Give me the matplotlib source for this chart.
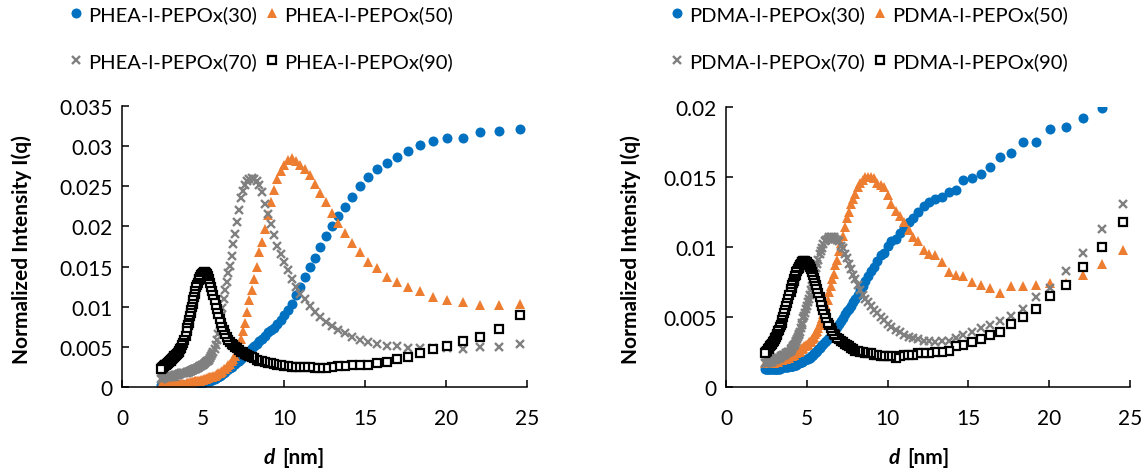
import numpy as np
import matplotlib
matplotlib.use("Agg")
import matplotlib.pyplot as plt
from matplotlib.ticker import FuncFormatter

plt.rcParams['font.family'] = ['Lato', 'DejaVu Sans']

# d-spacing of each scattering point (nm), shared by all samples
d_nm = [
    24.54, 23.25, 22.08, 21.02, 20.06, 19.19, 18.38, 17.64, 16.96, 16.33,
    15.75, 15.20, 14.69, 14.22, 13.77, 13.35, 12.96, 12.59, 12.24, 11.91,
    11.59, 11.30, 11.01, 10.74, 10.49, 10.24, 10.01, 9.785, 9.572, 9.368,
    9.172, 8.985, 8.805, 8.632, 8.466, 8.306, 8.151, 8.003, 7.860, 7.722,
    7.588, 7.460, 7.335, 7.215, 7.098, 6.985, 6.876, 6.770, 6.667, 6.568,
    6.471, 6.377, 6.286, 6.197, 6.111, 6.027, 5.945, 5.866, 5.789, 5.714,
    5.640, 5.569, 5.499, 5.431, 5.365, 5.300, 5.237, 5.175, 5.115, 5.056,
    4.999, 4.942, 4.887, 4.834, 4.781, 4.730, 4.679, 4.630, 4.582, 4.534,
    4.488, 4.443, 4.398, 4.355, 4.312, 4.270, 4.229, 4.189, 4.149, 4.110,
    4.072, 4.035, 3.998, 3.926, 3.857, 3.791, 3.727, 3.665, 3.604, 3.546,
    3.490, 3.435, 3.382, 3.331, 3.281, 3.233, 3.186, 3.141, 3.096, 3.053,
    3.012, 2.951, 2.893, 2.837, 2.783, 2.731, 2.681, 2.633, 2.586,
    2.541, 2.498, 2.456, 2.416,
]

# PHEA-l-PEPOx series
phea_30 = [
    0.0321, 0.0319, 0.0318, 0.0310, 0.0310, 0.0306, 0.0302, 0.0294, 0.0286, 0.0279,
    0.0271, 0.0262, 0.0250, 0.0237, 0.0224, 0.0213, 0.0200, 0.0188, 0.0174, 0.0161,
    0.0149, 0.0137, 0.0125, 0.0114, 0.0104, 0.0096, 0.0090, 0.0084, 0.0079, 0.0074,
    0.0071, 0.0068, 0.0064, 0.0060, 0.0057, 0.0054, 0.0051, 0.0048, 0.0045, 0.0042,
    0.0040, 0.0037, 0.0035, 0.0033, 0.0031, 0.0029, 0.0027, 0.0025, 0.0024, 0.0022,
    0.0021, 0.0019, 0.0018, 0.0016, 0.0015, 0.0014, 0.0013, 0.0012, 0.0011, 0.0010,
    0.0010, 0.0009, 0.0009, 0.0008, 0.0008, 0.0007, 0.0007, 0.0007, 0.0006, 0.0006,
    0.0006, 0.0005, 0.0005, 0.0005, 0.0005, 0.0005, 0.0004, 0.0004, 0.0004, 0.0004,
    0.0004, 0.0004, 0.0004, 0.0003, 0.0003, 0.0003, 0.0003, 0.0003, 0.0003, 0.0003,
    0.0003, 0.0003, 0.0003, 0.0003, 0.0003, 0.0003, 0.0003, 0.0003, 0.0003, 0.0003,
    0.0003, 0.0003, 0.0002, 0.0002, 0.0002, 0.0002, 0.0002, 0.0002, 0.0002, 0.0002,
    0.0002, 0.0002, 0.0002, 0.0002, 0.0002, 0.0002, 0.0002, 0.0002, 0.0002,
    0.0002, 0.0002, 0.0002, 0.0002,
]
phea_50 = [
    0.0104, 0.0102, 0.0102, 0.0106, 0.0108, 0.0112, 0.0119, 0.0124, 0.0131, 0.0137,
    0.0148, 0.0156, 0.0168, 0.0179, 0.0192, 0.0204, 0.0217, 0.0230, 0.0242, 0.0253,
    0.0264, 0.0272, 0.0277, 0.0281, 0.0285, 0.0283, 0.0277, 0.0269, 0.0259, 0.0245,
    0.0230, 0.0214, 0.0197, 0.0181, 0.0168, 0.0150, 0.0135, 0.0121, 0.0108, 0.0094,
    0.0080, 0.0070, 0.0060, 0.0051, 0.0044, 0.0039, 0.0035, 0.0032, 0.0029, 0.0027,
    0.0025, 0.0023, 0.0022, 0.0020, 0.0019, 0.0018, 0.0017, 0.0016, 0.0015, 0.0014,
    0.0014, 0.0013, 0.0013, 0.0012, 0.0012, 0.0011, 0.0011, 0.0010, 0.0010, 0.0010,
    0.0009, 0.0009, 0.0009, 0.0008, 0.0008, 0.0008, 0.0008, 0.0007, 0.0007, 0.0007,
    0.0007, 0.0006, 0.0006, 0.0006, 0.0006, 0.0006, 0.0005, 0.0005, 0.0005, 0.0005,
    0.0005, 0.0005, 0.0005, 0.0004, 0.0004, 0.0004, 0.0004, 0.0004, 0.0004, 0.0003,
    0.0003, 0.0003, 0.0003, 0.0003, 0.0003, 0.0003, 0.0003, 0.0003, 0.0003, 0.0003,
    0.0003, 0.0003, 0.0003, 0.0002, 0.0002, 0.0002, 0.0002, 0.0002, 0.0002,
    0.0002, 0.0002, 0.0002, 0.0002,
]
phea_70 = [
    0.0054, 0.0050, 0.0050, 0.0047, 0.0048, 0.0048, 0.0049, 0.0049, 0.0051, 0.0051,
    0.0054, 0.0056, 0.0058, 0.0062, 0.0067, 0.0071, 0.0076, 0.0081, 0.0087, 0.0094,
    0.0101, 0.0109, 0.0116, 0.0124, 0.0134, 0.0146, 0.0156, 0.0166, 0.0176, 0.0189,
    0.0203, 0.0216, 0.0228, 0.0243, 0.0251, 0.0256, 0.0259, 0.0260, 0.0259, 0.0256,
    0.0251, 0.0244, 0.0236, 0.0221, 0.0205, 0.0190, 0.0178, 0.0163, 0.0151, 0.0142,
    0.0131, 0.0121, 0.0109, 0.0098, 0.0088, 0.0077, 0.0066, 0.0058, 0.0052, 0.0047,
    0.0044, 0.0041, 0.0038, 0.0036, 0.0034, 0.0033, 0.0032, 0.0031, 0.0030, 0.0029,
    0.0028, 0.0027, 0.0026, 0.0026, 0.0025, 0.0025, 0.0024, 0.0024, 0.0023, 0.0023,
    0.0022, 0.0022, 0.0021, 0.0021, 0.0021, 0.0020, 0.0020, 0.0020, 0.0019, 0.0019,
    0.0019, 0.0019, 0.0018, 0.0018, 0.0018, 0.0017, 0.0017, 0.0017, 0.0016, 0.0016,
    0.0016, 0.0015, 0.0015, 0.0015, 0.0015, 0.0014, 0.0014, 0.0014, 0.0014, 0.0014,
    0.0013, 0.0013, 0.0013, 0.0013, 0.0012, 0.0012, 0.0012, 0.0012, 0.0011,
    0.0011, 0.0011, 0.0010, 0.0010,
]
phea_90 = [
    0.0090, 0.0072, 0.0062, 0.0057, 0.0051, 0.0047, 0.0042, 0.0037, 0.0035, 0.0031,
    0.0030, 0.0028, 0.0027, 0.0027, 0.0026, 0.0026, 0.0025, 0.0024, 0.0024, 0.0024,
    0.0025, 0.0025, 0.0025, 0.0025, 0.0025, 0.0026, 0.0026, 0.0027, 0.0028, 0.0029,
    0.0030, 0.0030, 0.0031, 0.0032, 0.0033, 0.0034, 0.0036, 0.0037, 0.0039, 0.0040,
    0.0041, 0.0043, 0.0044, 0.0046, 0.0048, 0.0050, 0.0052, 0.0054, 0.0056, 0.0059,
    0.0062, 0.0066, 0.0071, 0.0075, 0.0080, 0.0085, 0.0091, 0.0097, 0.0102, 0.0108,
    0.0114, 0.0119, 0.0125, 0.0130, 0.0135, 0.0138, 0.0141, 0.0142, 0.0143, 0.0143,
    0.0142, 0.0141, 0.0139, 0.0137, 0.0135, 0.0133, 0.0130, 0.0127, 0.0124, 0.0120,
    0.0116, 0.0112, 0.0108, 0.0104, 0.0100, 0.0096, 0.0092, 0.0088, 0.0084, 0.0080,
    0.0077, 0.0073, 0.0070, 0.0064, 0.0059, 0.0055, 0.0052, 0.0049, 0.0047, 0.0045,
    0.0043, 0.0042, 0.0041, 0.0040, 0.0039, 0.0038, 0.0037, 0.0036, 0.0035, 0.0034,
    0.0033, 0.0032, 0.0031, 0.0030, 0.0029, 0.0028, 0.0027, 0.0027, 0.0026,
    0.0025, 0.0024, 0.0024, 0.0023,
]

# PDMA-l-PEPOx series (first PDMA(30) point lies above the axis range)
pdma_30 = [
    np.nan, 0.0199, 0.0192, 0.0186, 0.0184, 0.0175, 0.0175, 0.0167, 0.0164, 0.0157,
    0.0152, 0.0149, 0.0148, 0.0141, 0.0139, 0.0136, 0.0134, 0.0132, 0.0129, 0.0125,
    0.0121, 0.0118, 0.0114, 0.0110, 0.0106, 0.0104, 0.0101, 0.0096, 0.0094, 0.0090,
    0.0086, 0.0083, 0.0079, 0.0076, 0.0072, 0.0069, 0.0066, 0.0063, 0.0061, 0.0058,
    0.0056, 0.0054, 0.0052, 0.0049, 0.0047, 0.0045, 0.0043, 0.0041, 0.0039, 0.0038,
    0.0036, 0.0035, 0.0034, 0.0033, 0.0032, 0.0031, 0.0030, 0.0029, 0.0028, 0.0027,
    0.0026, 0.0025, 0.0024, 0.0024, 0.0023, 0.0022, 0.0022, 0.0021, 0.0021, 0.0020,
    0.0020, 0.0020, 0.0019, 0.0019, 0.0019, 0.0018, 0.0018, 0.0018, 0.0018, 0.0017,
    0.0017, 0.0017, 0.0017, 0.0016, 0.0016, 0.0016, 0.0016, 0.0016, 0.0015, 0.0015,
    0.0015, 0.0015, 0.0015, 0.0015, 0.0014, 0.0014, 0.0014, 0.0014, 0.0014, 0.0014,
    0.0014, 0.0014, 0.0014, 0.0013, 0.0013, 0.0013, 0.0013, 0.0013, 0.0013, 0.0013,
    0.0013, 0.0013, 0.0013, 0.0013, 0.0013, 0.0013, 0.0013, 0.0013, 0.0013,
    0.0013, 0.0013, 0.0013, 0.0013,
]
pdma_50 = [
    0.0098, 0.0088, 0.0080, 0.0074, 0.0074, 0.0073, 0.0072, 0.0072, 0.0067, 0.0071,
    0.0073, 0.0075, 0.0079, 0.0080, 0.0082, 0.0089, 0.0094, 0.0095, 0.0098, 0.0104,
    0.0107, 0.0112, 0.0118, 0.0122, 0.0126, 0.0131, 0.0137, 0.0143, 0.0144, 0.0146,
    0.0149, 0.0150, 0.0150, 0.0150, 0.0148, 0.0146, 0.0143, 0.0138, 0.0134, 0.0131,
    0.0125, 0.0121, 0.0114, 0.0108, 0.0103, 0.0097, 0.0091, 0.0087, 0.0081, 0.0077,
    0.0072, 0.0068, 0.0062, 0.0058, 0.0055, 0.0052, 0.0049, 0.0047, 0.0044, 0.0042,
    0.0040, 0.0039, 0.0038, 0.0036, 0.0035, 0.0034, 0.0033, 0.0032, 0.0032, 0.0031,
    0.0030, 0.0030, 0.0029, 0.0029, 0.0028, 0.0028, 0.0027, 0.0027, 0.0026, 0.0026,
    0.0025, 0.0025, 0.0025, 0.0024, 0.0024, 0.0024, 0.0023, 0.0023, 0.0023, 0.0022,
    0.0022, 0.0022, 0.0022, 0.0021, 0.0021, 0.0021, 0.0020, 0.0020, 0.0020, 0.0020,
    0.0019, 0.0019, 0.0019, 0.0019, 0.0019, 0.0018, 0.0018, 0.0018, 0.0018, 0.0018,
    0.0018, 0.0017, 0.0017, 0.0017, 0.0017, 0.0017, 0.0017, 0.0017, 0.0017,
    0.0017, 0.0017, 0.0017, 0.0017,
]
pdma_70 = [
    0.0131, 0.0113, 0.0096, 0.0083, 0.0071, 0.0064, 0.0056, 0.0051, 0.0047, 0.0044,
    0.0042, 0.0039, 0.0037, 0.0035, 0.0033, 0.0033, 0.0032, 0.0033, 0.0033, 0.0034,
    0.0035, 0.0036, 0.0037, 0.0039, 0.0041, 0.0043, 0.0045, 0.0048, 0.0050, 0.0053,
    0.0055, 0.0058, 0.0061, 0.0063, 0.0066, 0.0069, 0.0073, 0.0077, 0.0080, 0.0084,
    0.0088, 0.0092, 0.0095, 0.0099, 0.0101, 0.0104, 0.0105, 0.0106, 0.0107, 0.0107,
    0.0107, 0.0107, 0.0106, 0.0105, 0.0104, 0.0102, 0.0099, 0.0097, 0.0095, 0.0091,
    0.0088, 0.0085, 0.0081, 0.0078, 0.0075, 0.0072, 0.0069, 0.0066, 0.0063, 0.0061,
    0.0058, 0.0056, 0.0053, 0.0051, 0.0049, 0.0046, 0.0044, 0.0042, 0.0039, 0.0038,
    0.0037, 0.0036, 0.0034, 0.0033, 0.0032, 0.0031, 0.0030, 0.0029, 0.0029, 0.0028,
    0.0027, 0.0027, 0.0026, 0.0025, 0.0025, 0.0024, 0.0024, 0.0023, 0.0023, 0.0023,
    0.0022, 0.0022, 0.0022, 0.0021, 0.0021, 0.0021, 0.0020, 0.0020, 0.0020, 0.0020,
    0.0019, 0.0019, 0.0019, 0.0018, 0.0018, 0.0018, 0.0018, 0.0018, 0.0017,
    0.0017, 0.0017, 0.0017, 0.0017,
]
pdma_90 = [
    0.0118, 0.0100, 0.0086, 0.0073, 0.0065, 0.0056, 0.0050, 0.0045, 0.0039, 0.0037,
    0.0034, 0.0032, 0.0030, 0.0029, 0.0026, 0.0025, 0.0025, 0.0024, 0.0024, 0.0024,
    0.0023, 0.0023, 0.0023, 0.0022, 0.0021, 0.0022, 0.0022, 0.0022, 0.0022, 0.0023,
    0.0023, 0.0024, 0.0024, 0.0024, 0.0025, 0.0025, 0.0026, 0.0026, 0.0027, 0.0028,
    0.0029, 0.0030, 0.0031, 0.0032, 0.0033, 0.0034, 0.0035, 0.0037, 0.0038, 0.0040,
    0.0042, 0.0044, 0.0046, 0.0049, 0.0052, 0.0055, 0.0058, 0.0061, 0.0064, 0.0067,
    0.0070, 0.0073, 0.0076, 0.0078, 0.0080, 0.0082, 0.0084, 0.0086, 0.0087, 0.0088,
    0.0089, 0.0089, 0.0090, 0.0090, 0.0090, 0.0089, 0.0089, 0.0088, 0.0087, 0.0086,
    0.0085, 0.0084, 0.0083, 0.0082, 0.0080, 0.0079, 0.0077, 0.0076, 0.0074, 0.0073,
    0.0071, 0.0070, 0.0068, 0.0066, 0.0063, 0.0060, 0.0058, 0.0055, 0.0053, 0.0050,
    0.0048, 0.0046, 0.0044, 0.0043, 0.0041, 0.0040, 0.0038, 0.0037, 0.0036, 0.0035,
    0.0034, 0.0033, 0.0032, 0.0031, 0.0030, 0.0029, 0.0028, 0.0027, 0.0027,
    0.0026, 0.0025, 0.0025, 0.0024,
]

blue = '#0070C0'
orange = '#ED7D31'
gray = '#808080'

W, H = 1148, 477
fig = plt.figure(figsize=(W / 100, H / 100), dpi=100)
ax1 = fig.add_axes([122 / W, 1 - 388 / H, 405 / W, 281 / H])
ax2 = fig.add_axes([726 / W, 1 - 388 / H, 404 / W, 280 / H])


def draw_panel(ax, prefix, series, ymax, yticks):
    s30, s50, s70, s90 = series
    h30, = ax.plot(d_nm, s30, ls='none', marker='o', ms=7.2, color=blue,
                   mec=blue, mew=0, label=prefix + '(30)')
    h50, = ax.plot(d_nm, s50, ls='none', marker='^', ms=7.8, color=orange,
                   mec=orange, mew=0, label=prefix + '(50)')
    h70, = ax.plot(d_nm, s70, ls='none', marker='x', ms=5.8, color=gray,
                   mew=1.7, label=prefix + '(70)')
    h90, = ax.plot(d_nm, s90, ls='none', marker='s', ms=6.2, mfc='white',
                   mec='black', mew=1.6, label=prefix + '(90)')

    ax.set_xlim(0, 25)
    ax.set_ylim(0, ymax)
    ax.set_xticks([0, 5, 10, 15, 20, 25])
    ax.set_yticks(yticks)
    ax.yaxis.set_major_formatter(FuncFormatter(lambda v, p: f"{v:g}"))
    for side in ('top', 'right'):
        ax.spines[side].set_visible(False)
    for side in ('left', 'bottom'):
        ax.spines[side].set_linewidth(1.1)
    ax.tick_params(direction='in', length=5, width=1.1, labelsize=15)
    ax.tick_params(axis='x', pad=15)
    ax.tick_params(axis='y', pad=7)
    # legend is filled column-wise, so 30/70 form the first column
    return [h30, h70, h50, h90]


handles1 = draw_panel(ax1, 'PHEA-l-PEPOx', [phea_30, phea_50, phea_70, phea_90],
                      0.035, [0, 0.005, 0.01, 0.015, 0.02, 0.025, 0.03, 0.035])
handles2 = draw_panel(ax2, 'PDMA-l-PEPOx', [pdma_30, pdma_50, pdma_70, pdma_90],
                      0.02, [0, 0.005, 0.01, 0.015, 0.02])

for handles, x0 in ((handles1, 70), (handles2, 671)):
    fig.legend(handles=handles, ncol=2, loc='upper left',
               bbox_to_anchor=(x0 / W, 1 - 6 / H), frameon=False,
               fontsize=14.5, handlelength=0.6, handletextpad=0.3,
               columnspacing=0.45, labelspacing=1.45, borderpad=0,
               borderaxespad=0)

# axis titles
for xl in (22, 631):
    fig.text(xl / W, 1 - 250 / H, 'Normalized Intensity I(q)', rotation=90,
             ha='center', va='center', fontsize=15, fontweight='bold')
for xd in (269, 894):
    fig.text(xd / W, 1 - 458 / H, 'd', ha='center', va='center',
             fontsize=15, fontweight='bold', fontstyle='italic')
    fig.text((xd + 13) / W, 1 - 458 / H, '[nm]', ha='left', va='center',
             fontsize=15, fontweight='bold')

fig.savefig('out.png', dpi=100)
